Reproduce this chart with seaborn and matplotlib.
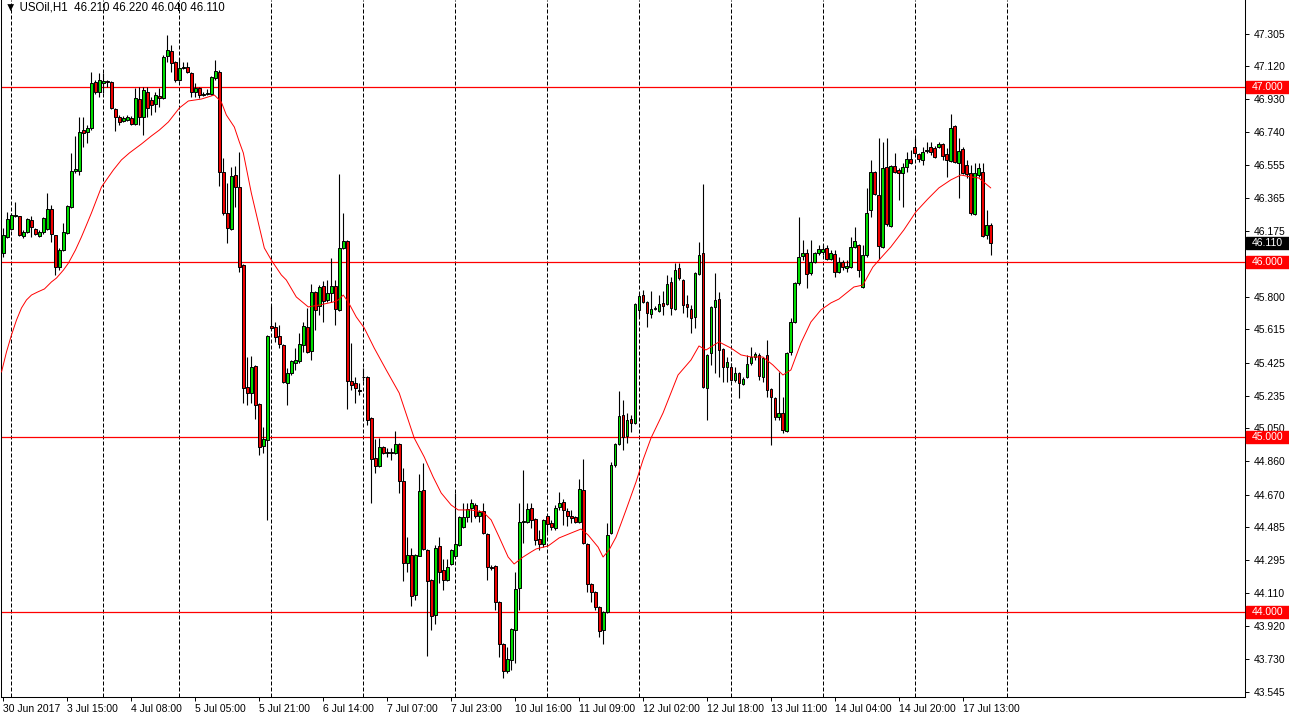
import matplotlib
matplotlib.use('Agg')
import matplotlib.pyplot as plt
import matplotlib.transforms as mtransforms
from matplotlib.patches import Rectangle
import seaborn as sns
import pandas as pd
import numpy as np

# USOil H1 candles, 30 Jun 2017 -> 17 Jul 2017
opens = [
    46.051, 46.143, 46.188, 46.263, 46.263, 46.148, 46.171, 46.240, 46.188, 46.148,
    46.171, 46.188, 46.303, 46.154, 45.971, 46.068, 46.166, 46.314, 46.520, 46.520,
    46.754, 46.743, 46.766, 47.028, 46.971, 47.023, 47.034, 47.028, 46.874, 46.828,
    46.806, 46.811, 46.823, 46.788, 46.931, 46.828, 46.971, 46.926, 46.903, 46.948,
    46.937, 47.177, 47.206, 47.143, 47.040, 47.108, 47.114, 47.080, 46.971, 46.994,
    46.954, 46.960, 46.960, 47.051, 47.086, 46.514, 46.280, 46.188, 46.497, 46.428,
    45.983, 45.286, 45.251, 45.406, 45.188, 44.948, 44.983, 45.634, 45.628, 45.577,
    45.526, 45.308, 45.366, 45.423, 45.434, 45.526, 45.628, 45.491, 45.828, 45.748,
    45.863, 45.783, 45.823, 45.863, 45.726, 46.080, 46.120, 45.320, 45.308, 45.270,
    45.340, 45.343, 45.108, 44.880, 44.834, 44.943, 44.908, 44.914, 44.911, 44.960,
    44.748, 44.280, 44.326, 44.097, 44.320, 44.697, 44.354, 44.183, 43.983, 44.377,
    44.240, 44.183, 44.274, 44.320, 44.383, 44.486, 44.543, 44.594, 44.611, 44.548,
    44.577, 44.446, 44.257, 44.263, 44.057, 43.817, 43.663, 43.726, 43.897, 44.137,
    44.514, 44.514, 44.594, 44.531, 44.417, 44.388, 44.548, 44.508, 44.480, 44.600,
    44.628, 44.577, 44.548, 44.543, 44.514, 44.697, 44.388, 44.160, 44.114, 44.028,
    43.897, 44.000, 44.451, 44.840, 44.960, 45.126, 45.006, 45.103, 45.080, 45.726,
    45.811, 45.771, 45.703, 45.731, 45.720, 45.766, 45.760, 45.886, 45.731, 45.966,
    45.897, 45.760, 45.731, 45.686, 45.931, 46.051, 45.280, 45.477, 45.743, 45.788,
    45.503, 45.400, 45.400, 45.326, 45.366, 45.303, 45.343, 45.423, 45.457, 45.469,
    45.343, 45.469, 45.274, 45.223, 45.114, 45.137, 45.034, 45.486, 45.657, 45.880,
    46.034, 46.051, 45.937, 46.000, 46.051, 46.057, 46.080, 46.017, 46.046, 45.943,
    46.000, 45.966, 45.971, 46.086, 46.097, 45.857, 46.040, 46.297, 46.514, 46.383,
    46.086, 46.543, 46.206, 46.548, 46.526, 46.508, 46.543, 46.588, 46.657, 46.617,
    46.583, 46.634, 46.657, 46.651, 46.657, 46.674, 46.617, 46.577, 46.777, 46.566,
    46.646, 46.554, 46.508, 46.274, 46.497, 46.514, 46.154, 46.210,
]
highs = [
    46.194, 46.286, 46.280, 46.343, 46.263, 46.183, 46.251, 46.263, 46.194, 46.180,
    46.257, 46.394, 46.326, 46.154, 46.080, 46.223, 46.326, 46.623, 46.720, 46.828,
    46.828, 46.783, 47.086, 47.040, 47.080, 47.080, 47.040, 47.034, 46.880, 46.840,
    46.834, 46.840, 46.834, 46.994, 47.000, 47.000, 47.000, 46.943, 46.971, 46.994,
    47.180, 47.297, 47.240, 47.150, 47.166, 47.143, 47.143, 47.086, 47.023, 47.000,
    46.971, 46.988, 47.063, 47.154, 47.097, 46.594, 46.451, 46.543, 46.548, 46.628,
    45.988, 45.457, 45.463, 45.411, 45.194, 45.057, 45.583, 45.748, 45.657, 45.640,
    45.531, 45.394, 45.440, 45.508, 45.594, 45.657, 45.737, 45.874, 45.834, 45.868,
    45.891, 45.897, 46.023, 45.897, 46.503, 46.280, 46.126, 45.537, 45.343, 45.308,
    45.394, 45.350, 45.114, 44.988, 44.994, 44.948, 44.937, 44.937, 45.034, 44.966,
    44.823, 44.428, 44.366, 44.330, 44.788, 44.851, 44.360, 44.186, 44.383, 44.428,
    44.303, 44.303, 44.360, 44.680, 44.548, 44.623, 44.623, 44.646, 44.623, 44.583,
    44.623, 44.451, 44.268, 44.268, 44.060, 43.823, 43.800, 43.908, 44.228, 44.623,
    44.811, 44.623, 44.623, 44.537, 44.469, 44.531, 44.554, 44.526, 44.611, 44.686,
    44.646, 44.594, 44.583, 44.548, 44.760, 44.874, 44.394, 44.166, 44.120, 44.034,
    44.006, 44.508, 44.857, 44.966, 45.263, 45.211, 45.137, 45.126, 45.766, 45.823,
    45.840, 45.777, 45.834, 45.748, 45.811, 45.834, 45.926, 45.914, 45.994, 45.994,
    45.900, 45.811, 45.754, 45.943, 46.114, 46.446, 45.474, 45.748, 45.937, 45.828,
    45.508, 45.457, 45.423, 45.400, 45.371, 45.343, 45.469, 45.514, 45.486, 45.480,
    45.457, 45.554, 45.280, 45.228, 45.371, 45.228, 45.486, 45.680, 45.886, 46.257,
    46.126, 46.074, 46.126, 46.057, 46.097, 46.097, 46.097, 46.068, 46.068, 46.028,
    46.011, 46.011, 46.143, 46.200, 46.103, 46.097, 46.423, 46.583, 46.520, 46.708,
    46.686, 46.708, 46.554, 46.623, 46.537, 46.566, 46.628, 46.640, 46.708, 46.623,
    46.657, 46.683, 46.683, 46.663, 46.686, 46.680, 46.651, 46.846, 46.783, 46.708,
    46.657, 46.583, 46.554, 46.566, 46.566, 46.566, 46.297, 46.220,
]
lows = [
    46.028, 46.137, 46.183, 46.257, 46.148, 46.137, 46.165, 46.143, 46.154, 46.143,
    46.160, 46.183, 46.114, 45.926, 45.954, 46.063, 46.160, 46.308, 46.508, 46.497,
    46.657, 46.680, 46.754, 46.960, 46.943, 46.966, 47.000, 46.874, 46.748, 46.783,
    46.800, 46.806, 46.780, 46.783, 46.783, 46.726, 46.828, 46.840, 46.857, 46.886,
    46.931, 47.143, 47.086, 47.028, 47.034, 47.100, 47.080, 46.943, 46.943, 46.937,
    46.948, 46.954, 46.954, 47.040, 46.434, 46.268, 46.108, 46.183, 46.314, 45.943,
    45.194, 45.183, 45.194, 45.103, 44.897, 44.908, 44.526, 45.611, 45.543, 45.508,
    45.308, 45.183, 45.354, 45.383, 45.423, 45.486, 45.480, 45.440, 45.611, 45.697,
    45.657, 45.771, 45.771, 45.640, 45.720, 46.074, 45.160, 45.268, 45.194, 45.240,
    45.320, 45.068, 44.623, 44.794, 44.828, 44.903, 44.886, 44.868, 44.903, 44.680,
    44.177, 44.228, 44.034, 44.068, 44.317, 44.355, 43.748, 43.897, 43.931, 44.166,
    44.126, 44.177, 44.268, 44.314, 44.377, 44.480, 44.514, 44.514, 44.537, 44.514,
    44.446, 44.183, 44.240, 44.011, 43.743, 43.623, 43.651, 43.668, 43.708, 44.011,
    44.394, 44.508, 44.480, 44.383, 44.354, 44.371, 44.457, 44.469, 44.469, 44.583,
    44.497, 44.491, 44.508, 44.508, 44.508, 44.388, 44.114, 44.057, 44.011, 43.857,
    43.817, 43.994, 44.446, 44.828, 44.954, 44.926, 44.966, 45.028, 45.074, 45.686,
    45.766, 45.628, 45.680, 45.726, 45.714, 45.697, 45.754, 45.697, 45.726, 45.897,
    45.708, 45.686, 45.594, 45.623, 45.926, 45.280, 45.097, 45.411, 45.366, 45.343,
    45.314, 45.314, 45.320, 45.314, 45.223, 45.297, 45.337, 45.411, 45.440, 45.326,
    45.314, 45.228, 44.954, 45.097, 45.097, 45.023, 45.028, 45.469, 45.651, 45.868,
    46.011, 45.851, 45.926, 45.994, 46.040, 46.040, 46.011, 46.011, 45.914, 45.937,
    45.954, 45.943, 45.966, 46.080, 45.914, 45.851, 46.028, 46.257, 46.383, 46.017,
    46.080, 46.206, 46.200, 46.508, 46.354, 46.314, 46.514, 46.560, 46.617, 46.571,
    46.554, 46.623, 46.611, 46.594, 46.651, 46.583, 46.486, 46.571, 46.566, 46.366,
    46.503, 46.480, 46.268, 46.268, 46.486, 46.143, 46.131, 46.040,
]
closes = [
    46.154, 46.246, 46.268, 46.268, 46.154, 46.171, 46.246, 46.200, 46.160, 46.171,
    46.251, 46.303, 46.160, 45.971, 46.068, 46.171, 46.320, 46.520, 46.531, 46.743,
    46.737, 46.766, 47.023, 46.971, 47.040, 47.034, 47.028, 46.880, 46.828, 46.800,
    46.823, 46.828, 46.788, 46.937, 46.828, 46.983, 46.880, 46.897, 46.954, 46.937,
    47.171, 47.211, 47.137, 47.040, 47.108, 47.114, 47.086, 46.971, 46.994, 46.954,
    46.960, 46.966, 47.057, 47.091, 46.514, 46.280, 46.194, 46.491, 46.428, 45.971,
    45.280, 45.251, 45.400, 45.183, 44.943, 44.988, 45.577, 45.623, 45.571, 45.531,
    45.314, 45.366, 45.434, 45.440, 45.531, 45.634, 45.486, 45.828, 45.726, 45.857,
    45.777, 45.823, 45.863, 45.731, 46.080, 46.120, 45.320, 45.297, 45.280, 45.263,
    45.345, 45.097, 44.874, 44.834, 44.943, 44.908, 44.914, 44.908, 44.960, 44.748,
    44.280, 44.326, 44.091, 44.326, 44.691, 44.360, 44.177, 43.977, 44.366, 44.228,
    44.183, 44.257, 44.354, 44.388, 44.543, 44.543, 44.588, 44.623, 44.548, 44.571,
    44.451, 44.257, 44.251, 44.057, 43.817, 43.663, 43.731, 43.903, 44.131, 44.514,
    44.520, 44.588, 44.526, 44.411, 44.388, 44.526, 44.503, 44.486, 44.594, 44.623,
    44.583, 44.548, 44.537, 44.514, 44.703, 44.394, 44.160, 44.114, 44.028, 43.891,
    44.000, 44.440, 44.840, 44.960, 45.120, 45.000, 45.097, 45.080, 45.760, 45.806,
    45.771, 45.708, 45.731, 45.737, 45.760, 45.748, 45.874, 45.737, 45.954, 45.908,
    45.754, 45.743, 45.680, 45.937, 46.040, 45.286, 45.469, 45.743, 45.783, 45.497,
    45.400, 45.428, 45.326, 45.366, 45.308, 45.331, 45.417, 45.457, 45.474, 45.349,
    45.451, 45.268, 45.228, 45.114, 45.137, 45.040, 45.480, 45.657, 45.880, 46.028,
    46.051, 45.931, 46.000, 46.051, 46.074, 46.074, 46.017, 46.051, 45.943, 46.000,
    45.971, 45.977, 46.086, 46.120, 45.954, 46.040, 46.280, 46.514, 46.388, 46.091,
    46.537, 46.217, 46.548, 46.514, 46.508, 46.543, 46.588, 46.566, 46.623, 46.588,
    46.628, 46.640, 46.628, 46.600, 46.674, 46.606, 46.583, 46.766, 46.571, 46.634,
    46.508, 46.503, 46.280, 46.508, 46.537, 46.148, 46.211, 46.110,
]

# moving average line, sampled along the chart (bar index, price)
ma_bars = [
    -0.5, 0.75, 2, 3.25, 4.5, 5.75, 7, 8.5, 10.25, 12, 13.25, 15, 16.25, 18, 19.5,
    20.75, 22, 23.25, 24.5, 25.75, 27.5, 29.5, 31.5, 34.5, 37, 39, 41.25, 44, 46.25,
    49.5, 52.75, 54.5, 55.75, 57.75, 59, 60, 62, 64, 65.25, 67, 69.5, 70.75, 73.25,
    76.25, 79, 82.5, 83.75, 85, 86.25, 88.25, 90.25, 92.75, 95.75, 99, 101.25, 102.75,
    105.25, 107.5, 109.5, 112, 113.75, 117, 120, 122, 124, 126.25, 127.75, 130, 132,
    133.25, 136.25, 139, 142, 144.5, 146.25, 148.75, 150, 151.5, 153.25, 155.75,
    158.25, 160, 162, 165, 168.75, 172, 174, 175.75, 179, 182, 184.5, 187, 190, 192.5,
    195, 197, 199.5, 202, 204.5, 207, 209, 212.75, 215, 217.5, 219.5, 222, 225.25,
    228.25, 231.25, 234, 237, 239.5, 242, 244, 247,
]
ma_values = [
    45.371, 45.486, 45.583, 45.668, 45.737, 45.783, 45.811, 45.828, 45.846, 45.886,
    45.908, 45.954, 45.994, 46.068, 46.143, 46.211, 46.280, 46.354, 46.428, 46.469,
    46.526, 46.583, 46.623, 46.674, 46.720, 46.754, 46.800, 46.880, 46.920, 46.931,
    46.954, 46.914, 46.840, 46.771, 46.686, 46.623, 46.394, 46.200, 46.080, 46.011,
    45.926, 45.897, 45.800, 45.743, 45.754, 45.771, 45.783, 45.811, 45.771, 45.686,
    45.623, 45.508, 45.383, 45.251, 45.097, 44.994, 44.886, 44.771, 44.680, 44.611,
    44.583, 44.583, 44.571, 44.526, 44.428, 44.314, 44.274, 44.314, 44.343, 44.360,
    44.377, 44.423, 44.451, 44.474, 44.440, 44.371, 44.314, 44.354, 44.428, 44.583,
    44.743, 44.869, 44.994, 45.137, 45.354, 45.440, 45.520, 45.497, 45.543, 45.508,
    45.469, 45.457, 45.457, 45.411, 45.354, 45.383, 45.537, 45.657, 45.726, 45.766,
    45.788, 45.857, 45.868, 45.971, 46.023, 46.086, 46.183, 46.286, 46.360, 46.423,
    46.469, 46.497, 46.486, 46.480, 46.423,
]

day_start_bars = [2, 25, 44, 67, 90, 113, 136, 159, 182, 205, 228, 251]
time_label_bars = [0, 16, 32, 48, 64, 80, 96, 112, 128, 144, 160, 176, 192, 208, 224, 240]
time_labels = [
    '30 Jun 2017', '3 Jul 15:00', '4 Jul 08:00', '5 Jul 05:00', '5 Jul 21:00',
    '6 Jul 14:00', '7 Jul 07:00', '7 Jul 23:00', '10 Jul 16:00', '11 Jul 09:00',
    '12 Jul 02:00', '12 Jul 18:00', '13 Jul 11:00', '14 Jul 04:00', '14 Jul 20:00',
    '17 Jul 13:00',
]
price_ticks = [
    47.305, 47.120, 46.930, 46.740, 46.555, 46.365, 46.175, 45.800, 45.615, 45.425,
    45.235, 45.050, 44.860, 44.670, 44.485, 44.295, 44.110, 43.920, 43.730, 43.545,
]
level_lines = [47.0, 46.0, 45.0, 44.0]
last_price = 46.110
header_text = '\u25bc USOil,H1  46.210 46.220 46.040 46.110'


def plot_candles():
    sns.set_style('white')
    plt.rcParams['font.family'] = ['Liberation Sans', 'DejaVu Sans']

    fig = plt.figure(figsize=(12.89, 7.17), dpi=100)
    fig.patch.set_facecolor('white')
    # chart pane: left border at x=1, price scale starts at x=1245, time scale below y=697
    ax = fig.add_axes([1 / 1289, 20 / 717, 1244 / 1289, 697 / 717])

    df = pd.DataFrame({'open': opens, 'high': highs, 'low': lows, 'close': closes})
    df['bar'] = np.arange(len(df))
    up = df['close'] >= df['open']

    # day separators
    for b in day_start_bars:
        ax.axvline(b, color='black', linewidth=0.72, linestyle=(0, (4, 2)), zorder=1)

    # support / resistance levels
    for lvl in level_lines:
        ax.axhline(lvl, color='#ff0000', linewidth=0.9, zorder=2)

    # wicks then bodies
    ax.vlines(df['bar'], df['low'], df['high'], color='black', linewidth=0.8, zorder=3)
    body_bottom = df[['open', 'close']].min(axis=1)
    body_height = (df['close'] - df['open']).abs().clip(lower=0.004)
    ax.bar(df['bar'], body_height, bottom=body_bottom, width=0.72,
           color=np.where(up, '#00dd00', '#ee0000'), edgecolor='black',
           linewidth=0.7, zorder=4)

    # moving average
    ma_df = pd.DataFrame({'bar': ma_bars, 'ma': ma_values})
    sns.lineplot(data=ma_df, x='bar', y='ma', color='#ff0000', linewidth=0.7,
                 ax=ax, zorder=5, sort=False)

    ax.set_xlim(-0.625, 310.6)
    ax.set_ylim(43.514, 47.497)
    ax.set_xlabel('')
    ax.set_ylabel('')

    # price scale on the right
    ax.yaxis.tick_right()
    ax.set_yticks(price_ticks)
    ax.set_yticklabels([f'{t:.3f}' for t in price_ticks], fontsize=7.5)
    ax.tick_params(axis='y', right=True, left=False, length=3, width=0.7,
                   pad=3, direction='out', colors='black')

    # time scale
    ax.set_xticks(time_label_bars)
    ax.set_xticklabels(time_labels, fontsize=7.5, ha='left')
    ax.tick_params(axis='x', bottom=True, length=3, width=0.7, pad=2,
                   direction='out', colors='black')

    for side in ['left', 'right', 'bottom']:
        ax.spines[side].set_color('black')
        ax.spines[side].set_linewidth(0.75)
    ax.spines['top'].set_visible(False)

    # tagged prices on the scale
    trans = mtransforms.blended_transform_factory(ax.transAxes, ax.transData)
    box_w = 43 / 1244
    box_h = 12 / 175
    tags = [(lvl, '#ff0000') for lvl in level_lines] + [(last_price, 'black')]
    for price, colour in tags:
        ax.add_patch(Rectangle((1.0006, price - box_h / 2), box_w, box_h,
                               transform=trans, facecolor=colour, edgecolor=colour,
                               clip_on=False, zorder=6))
        ax.text(1.0056, price, f'{price:.3f}', transform=trans, color='white',
                fontsize=7.5, va='center', ha='left', zorder=7, clip_on=False)

    fig.text(5 / 1289, 1 - 8 / 717, header_text, fontsize=8.3, va='center',
             ha='left', color='black')
    return fig


if __name__ == '__main__':
    fig = plot_candles()
    fig.savefig('out.png', dpi=100, facecolor='white')
    plt.close(fig)
